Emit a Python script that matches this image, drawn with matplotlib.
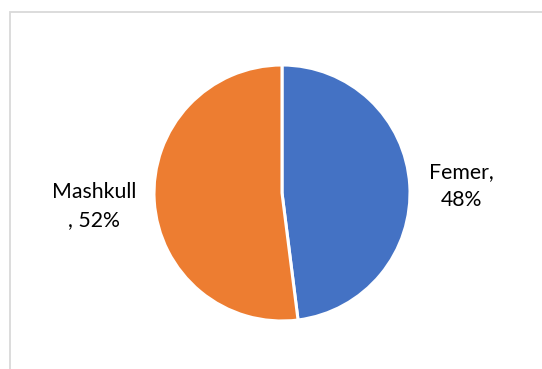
import matplotlib.pyplot as plt
from matplotlib.patches import Rectangle

# gender split
categories = ['Femer', 'Mashkull']
values = [48, 52]
colors = ['#4472C4', '#ED7D31']
separators = [',\n', '\n, ']

W, H = 542, 369
fig = plt.figure(figsize=(W / 100, H / 100), dpi=100)
ax = fig.add_axes([0, 0, 1, 1])

ax.pie(values, colors=colors, startangle=90, counterclock=False,
       center=(282, H - 193), radius=128,
       wedgeprops=dict(edgecolor='white', linewidth=2.2))

# pie() rescales the axes, so fix the pixel frame afterwards
ax.set_xlim(0, W)
ax.set_ylim(0, H)
ax.set_aspect('equal')
ax.axis('off')

# chart frame (runs off the right and bottom)
ax.add_patch(Rectangle((9.5, -10), W + 20, H - 11.5 + 10, fill=False,
                       edgecolor='#D9D9D9', linewidth=1.3))

label_pos = [(461, H - 186), (94, H - 206)]
for cat, v, sep, (x, y) in zip(categories, values, separators, label_pos):
    ax.text(x, y, f'{cat}{sep}{v}%', ha='center', va='center',
            fontsize=15.3, family=['Lato', 'DejaVu Sans'], color='#000000',
            linespacing=1.55)

fig.savefig('out.png', dpi=100)
